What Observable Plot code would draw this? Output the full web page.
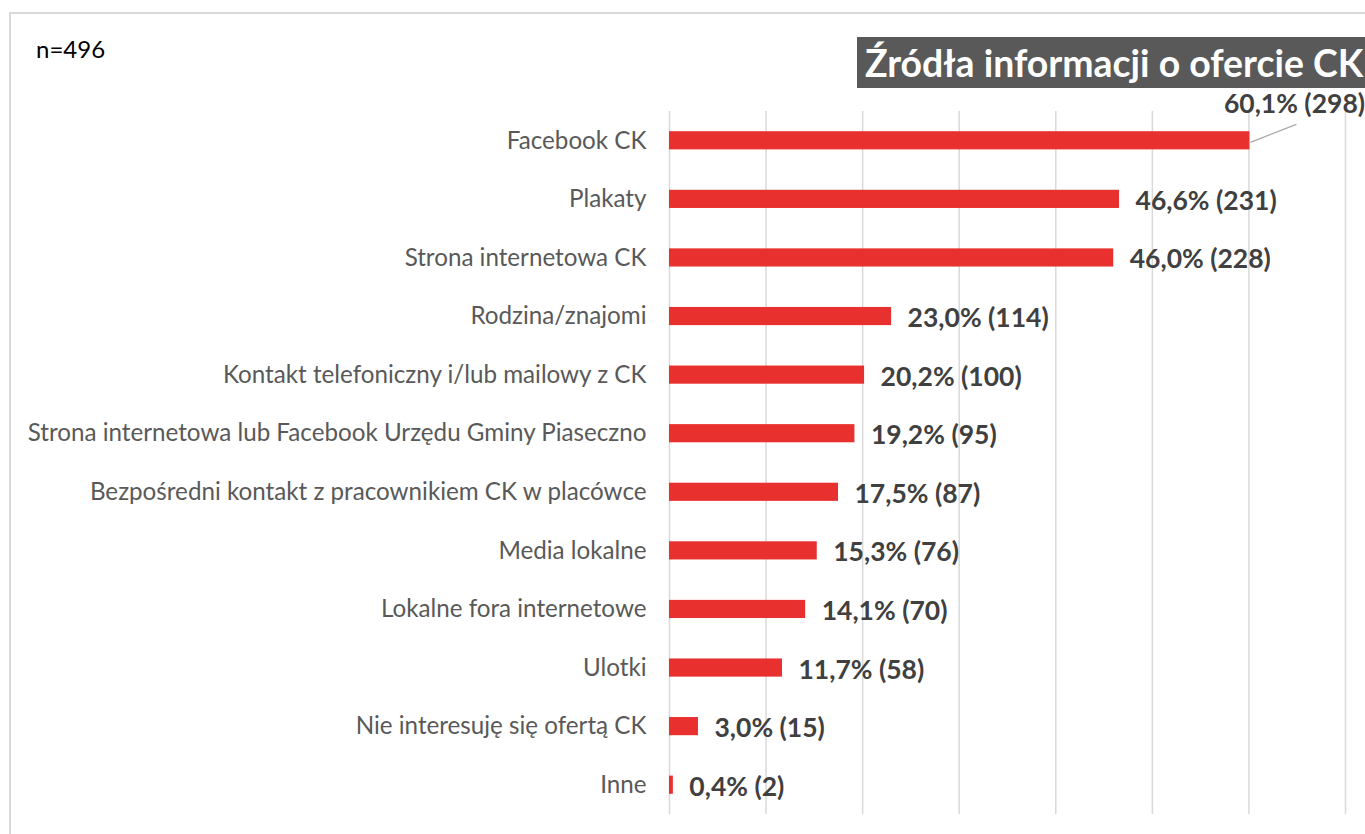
<!DOCTYPE html>
<html>
<head>
<meta charset="utf-8">
<script src="https://cdn.jsdelivr.net/npm/d3@7"></script>
<script src="https://cdn.jsdelivr.net/npm/@observablehq/plot@0.6"></script>
<style>
  html, body { margin: 0; padding: 0; background: #fff; overflow: hidden; }
  #wrap { position: relative; width: 1365px; height: 834px; font-family: Lato, "Open Sans", sans-serif; }
  #frame { position: absolute; left: 9px; top: 12px; width: 1400px; height: 900px; border-left: 2px solid #d9d9d9; border-top: 2px solid #d9d9d9; box-sizing: border-box; }
  #n { position: absolute; left: 36px; top: 34px; font-size: 24px; color: #000; }
  #title { position: absolute; left: 857px; top: 37px; height: 51px; padding: 0 0 0 8px; width: 560px; background: #595959; color: #fff; font-weight: bold; font-size: 37.4px; line-height: 51px; white-space: nowrap; box-sizing: border-box; }
  #chart { position: absolute; left: 0; top: 0; }
</style>
</head>
<body>
<div id="wrap">
  <div id="frame"></div>
  <div id="chart"></div>
  <div id="n">n=496</div>
  <div id="title">Źródła informacji o ofercie CK</div>
</div>
<script>
const categories = [
  "Facebook CK",
  "Plakaty",
  "Strona internetowa CK",
  "Rodzina/znajomi",
  "Kontakt telefoniczny i/lub mailowy z CK",
  "Strona internetowa lub Facebook Urzędu Gminy Piaseczno",
  "Bezpośredni kontakt z pracownikiem CK w placówce",
  "Media lokalne",
  "Lokalne fora internetowe",
  "Ulotki",
  "Nie interesuję się ofertą CK",
  "Inne"
];
const percents = [60.1, 46.6, 46.0, 23.0, 20.2, 19.2, 17.5, 15.3, 14.1, 11.7, 3.0, 0.4];
const counts = [298, 231, 228, 114, 100, 95, 87, 76, 70, 58, 15, 2];
const gridTicks = [0, 10, 20, 30, 40, 50, 60, 70];

const rows = categories.map((c, i) => ({
  cat: c, pct: percents[i], n: counts[i],
  label: percents[i].toFixed(1).replace(".", ",") + "% (" + counts[i] + ")"
}));
const firstRow = rows.slice(0, 1);
const otherRows = rows.slice(1);

const leader = (index, scales) => {
  const g = d3.create("svg:g");
  for (const d of firstRow) {
    const x0 = scales.x(d.pct);
    const yc = scales.y(d.cat) + scales.y.bandwidth() / 2;
    g.append("line")
      .attr("x1", x0 + 1).attr("y1", yc + 2)
      .attr("x2", x0 + 47).attr("y2", yc - 16)
      .attr("stroke", "#a6a6a6").attr("stroke-width", 1.3);
  }
  return g.node();
};

const chart = Plot.plot({
  width: 1365,
  height: 834,
  marginLeft: 669,
  marginRight: 20,
  marginTop: 111,
  marginBottom: 20,
  style: { fontFamily: "Lato, 'Open Sans', sans-serif", background: "transparent", overflow: "visible" },
  x: { domain: [0, 70], axis: null },
  y: { domain: categories, paddingInner: 0.69, paddingOuter: 0.345, round: false, label: null },
  marks: [
    Plot.ruleX(gridTicks, { stroke: "#d9d9d9", strokeWidth: 1.5 }),
    Plot.barX(rows, { x: "pct", y: "cat", fill: "#e8302f" }),
    Plot.axisY({ tickSize: 0, tickPadding: 23, fontSize: 24.2, color: "#595959", label: null }),
    Plot.text(otherRows, { x: "pct", y: "cat", text: "label", textAnchor: "start", dx: 16, dy: 2, fontSize: 26.5, fontWeight: "bold", fill: "#404040" }),
    Plot.text(firstRow, { x: "pct", y: "cat", text: "label", textAnchor: "start", dx: -26, dy: -36, fontSize: 26.5, fontWeight: "bold", fill: "#404040" }),
    leader
  ]
});
document.getElementById("chart").appendChild(chart);
</script>
</body>
</html>
